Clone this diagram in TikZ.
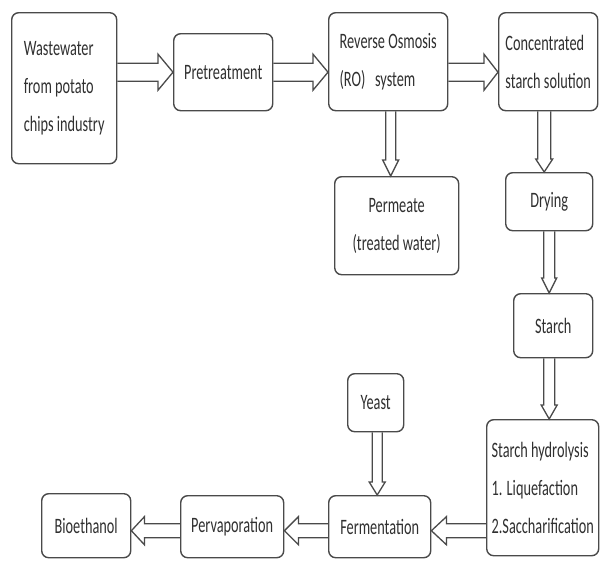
\documentclass[tikz,border=0pt]{standalone}
\usepackage{fontspec}
\setmainfont{Carlito}[FakeStretch=0.65]
\usetikzlibrary{calc}
\definecolor{ln}{HTML}{4A4A4A}
\definecolor{tx}{HTML}{303030}
\tikzset{
  box/.style={draw=ln, line width=1.4pt, rounded corners=7pt, anchor=north west,
    inner sep=0pt, text=tx, font=\fontsize{22pt}{38pt}\selectfont},
  arrowline/.style={draw=ln, line width=1.3pt, line join=miter},
}
% #1 shaft half width, #2 head half width, #3 head length, #4 start, #5 tip
\newcommand\blockarrow[5]{%
  \coordinate (as) at (#4);
  \coordinate (ae) at (#5);
  \coordinate (ah) at ($(ae)!#3!(as)$);
  \draw[arrowline] ($(as)!#1!90:(ae)$) -- ($(ah)!#1!90:(ae)$) -- ($(ah)!#2!90:(ae)$)
    -- (ae) -- ($(ah)!#2!-90:(ae)$) -- ($(ah)!#1!-90:(ae)$) -- ($(as)!#1!-90:(ae)$);
}
\begin{document}
\begin{tikzpicture}[x=1pt,y=-1pt]
\fill[white] (0,0) rectangle (600,563);
\useasboundingbox (0,0) rectangle (600,563);

\node[box, minimum width=105pt, minimum height=151pt, align=left] (W) at (11,12)
  {Wastewater\\from potato\\chips industry};
\node[box, minimum width=99pt, minimum height=77pt] (P) at (173,33) {Pretreatment};
\node[box, minimum width=119pt, minimum height=98pt, align=left] (RO) at (328,12)
  {Reverse Osmosis\\(RO)\ \ \ system};
\node[box, minimum width=99pt, minimum height=98pt, align=left] (C) at (498,12)
  {Concentrated\\starch solution};
\node[box, minimum width=124pt, minimum height=98pt, align=center] (Pm) at (334,176)
  {Permeate\\(treated water)};
\node[box, minimum width=87pt, minimum height=58pt] (D) at (505,172) {Drying};
\node[box, minimum width=79pt, minimum height=64pt] (S) at (513,293) {Starch};
\node[box, minimum width=112pt, minimum height=136pt, align=left] (H) at (486,419)
  {Starch hydrolysis\\1. Liquefaction\\2.Saccharification};
\node[box, minimum width=56pt, minimum height=58pt] (Y) at (347,373) {Yeast};
\node[box, minimum width=102pt, minimum height=62pt] (F) at (328,495) {Fermentation};
\node[box, minimum width=103pt, minimum height=62pt] (Pv) at (180,495) {Pervaporation};
\node[box, minimum width=89pt, minimum height=64pt] (B) at (41,493) {Bioethanol};

\blockarrow{9pt}{18pt}{15pt}{W.east |- P.west}{P.west}
\blockarrow{9pt}{18pt}{15pt}{P.east}{RO.west |- P.east}
\blockarrow{9pt}{18pt}{14pt}{RO.east |- P.east}{C.west |- P.east}

\coordinate (rp) at ($(RO.south)+(2.5,0)$);
\blockarrow{5pt}{8pt}{16pt}{rp}{rp |- Pm.north}
\coordinate (cd) at ($(C.south)+(-4,0)$);
\blockarrow{6.5pt}{8.5pt}{13pt}{cd}{cd |- D.north}
\blockarrow{5.5pt}{7.5pt}{15pt}{D.south}{D.south |- S.north}
\blockarrow{5.5pt}{8pt}{14pt}{D.south |- S.south}{D.south |- H.north}
\coordinate (yf) at ($(Y.south)+(1.5,0)$);
\blockarrow{5pt}{8pt}{13pt}{yf}{yf |- F.north}

\coordinate (fe) at ($(F.east)+(0,4)$);
\blockarrow{7pt}{14pt}{15pt}{H.west |- fe}{fe}
\blockarrow{7pt}{14pt}{14pt}{F.west |- fe}{Pv.east |- fe}
\blockarrow{7pt}{14pt}{13pt}{Pv.west |- fe}{B.east |- fe}
\end{tikzpicture}
\end{document}
